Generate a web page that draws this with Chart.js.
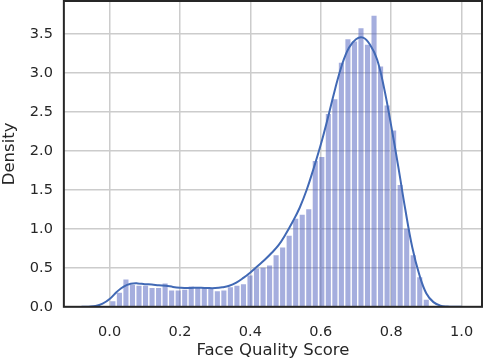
<!DOCTYPE html>
<html>
<head>
<meta charset="utf-8">
<script src="https://cdn.jsdelivr.net/npm/chart.js@4"></script>
<style>
  body { margin: 0; background: #fff; }
</style>
</head>
<body>
<canvas id="miGrafico" width="484" height="362"></canvas>
<script>
// histogram bins (left edge of first bin and bin width, in score units)
const binStart = 0.0;
const binWidth = 0.01855;
const histDensity = [0.07, 0.18, 0.35, 0.28, 0.27, 0.27, 0.24, 0.24, 0.30, 0.21,
  0.21, 0.22, 0.26, 0.24, 0.24, 0.24, 0.20, 0.21, 0.25, 0.27,
  0.29, 0.40, 0.49, 0.50, 0.53, 0.66, 0.76, 0.91, 1.13, 1.18,
  1.25, 1.87, 1.92, 2.47, 2.66, 3.13, 3.43, 3.40, 3.57, 3.36,
  3.73, 3.08, 2.58, 2.26, 1.56, 1.00, 0.66, 0.38, 0.09];

// kde curve
const kdeX = [-0.08, -0.06, -0.04, -0.02, 0.0, 0.02, 0.04, 0.06, 0.08, 0.10, 0.12, 0.14, 0.16, 0.18,
  0.20, 0.22, 0.24, 0.26, 0.28, 0.30, 0.32, 0.34, 0.36, 0.38, 0.40, 0.42, 0.44, 0.46, 0.48,
  0.50, 0.52, 0.54, 0.56, 0.58, 0.60, 0.62, 0.64, 0.66, 0.68, 0.70, 0.72, 0.74, 0.76, 0.78,
  0.80, 0.82, 0.84, 0.86, 0.88, 0.90, 0.92, 0.94, 0.96, 0.98, 1.00];
const kdeY = [0.0, 0.002, 0.01, 0.04, 0.10, 0.19, 0.26, 0.295, 0.30, 0.29, 0.285, 0.275, 0.27, 0.255,
  0.245, 0.24, 0.245, 0.245, 0.24, 0.24, 0.25, 0.27, 0.31, 0.37, 0.44, 0.52, 0.60, 0.69, 0.79,
  0.93, 1.09, 1.27, 1.50, 1.78, 2.08, 2.42, 2.78, 3.10, 3.32, 3.43, 3.45, 3.36, 3.17, 2.80,
  2.32, 1.80, 1.25, 0.76, 0.41, 0.17, 0.06, 0.015, 0.003, 0.0, 0.0];

const xTicks = [0.0, 0.2, 0.4, 0.6, 0.8, 1.0];
const yTicks = [0.0, 0.5, 1.0, 1.5, 2.0, 2.5, 3.0, 3.5];

var barPts = histDensity.map(function (d, i) {
  return { x: binStart + binWidth * (i + 0.5), y: d };
});
var kdePts = kdeX.map(function (x, i) { return { x: x, y: kdeY[i] }; });

const FONT = "'DejaVu Sans', sans-serif";
const TEXT = '#262626';

// dark frame round the plot area, like the seaborn axes
const framePlugin = {
  id: 'frame',
  afterDraw: function (chart) {
    var a = chart.chartArea, ctx = chart.ctx;
    ctx.save();
    ctx.strokeStyle = '#262626';
    ctx.lineWidth = 2;
    ctx.strokeRect(a.left, a.top, a.right - a.left, a.bottom - a.top);
    ctx.restore();
  }
};

// the end ticks are not at the axis ends, so no room is needed for them
function noEdgePad(axis) {
  axis.paddingTop = 0; axis.paddingBottom = 0;
  axis.paddingLeft = 0; axis.paddingRight = 0;
}

new Chart(document.getElementById('miGrafico'), {
  data: {
    datasets: [{
      type: 'line',
      data: kdePts,
      borderColor: '#4169b5',
      borderWidth: 2,
      pointRadius: 0,
      tension: 0.4,
      fill: false,
      order: 0
    }, {
      type: 'bar',
      data: barPts,
      backgroundColor: 'rgba(76, 94, 190, 0.5)',
      borderWidth: 0,
      barPercentage: 0.78,
      categoryPercentage: 1.0,
      order: 1
    }]
  },
  options: {
    responsive: false,
    animation: false,
    layout: { padding: { left: 0, right: 2, top: 1, bottom: 0 } },
    plugins: {
      legend: { display: false },
      tooltip: { enabled: false }
    },
    scales: {
      x: {
        type: 'linear',
        min: -0.13,
        max: 1.058,
        offset: false,
        afterBuildTicks: function (axis) {
          axis.ticks = xTicks.map(function (v) { return { value: v }; });
        },
        afterFit: noEdgePad,
        ticks: {
          font: { family: FONT, size: 14.5 },
          color: TEXT,
          padding: 17,
          callback: function (v) { return v.toFixed(1); }
        },
        grid: { color: '#cccccc', lineWidth: 1.5, drawTicks: false, offset: false },
        border: { display: false },
        title: {
          display: true,
          text: 'Face Quality Score',
          font: { family: FONT, size: 16.5 },
          color: TEXT,
          padding: { top: -17, bottom: 1 }
        }
      },
      y: {
        min: 0,
        max: 3.92,
        afterBuildTicks: function (axis) {
          axis.ticks = yTicks.map(function (v) { return { value: v }; });
        },
        afterFit: noEdgePad,
        ticks: {
          font: { family: FONT, size: 14.5 },
          color: TEXT,
          padding: 11,
          callback: function (v) { return v.toFixed(1); }
        },
        grid: { color: '#cccccc', lineWidth: 1.5, drawTicks: false },
        border: { display: false },
        title: {
          display: true,
          text: 'Density',
          font: { family: FONT, size: 16.5 },
          color: TEXT,
          padding: { top: 0, bottom: -1 }
        }
      }
    }
  },
  plugins: [framePlugin]
});
</script>
</body>
</html>
